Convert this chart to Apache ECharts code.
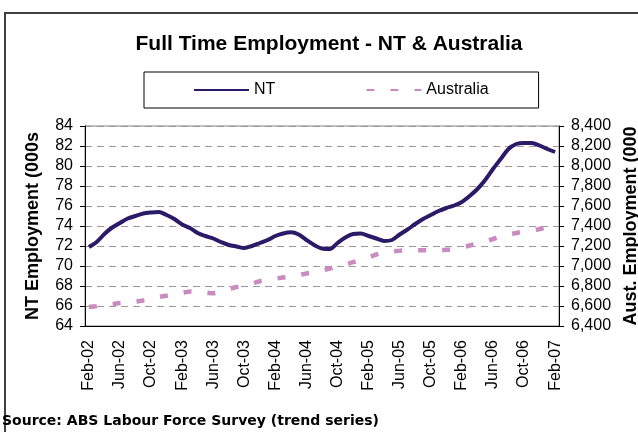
<!DOCTYPE html>
<html>
<head>
<meta charset="utf-8">
<script src="https://cdn.jsdelivr.net/npm/echarts@6/dist/echarts.min.js"></script>
<style>
html,body{margin:0;padding:0;background:#fff;}
#chart{width:638px;height:432px;}
</style>
</head>
<body>
<div id="chart"></div>
<script>
var months = [
 'Feb-02','Mar-02','Apr-02','May-02','Jun-02','Jul-02','Aug-02','Sep-02','Oct-02','Nov-02','Dec-02','Jan-03',
 'Feb-03','Mar-03','Apr-03','May-03','Jun-03','Jul-03','Aug-03','Sep-03','Oct-03','Nov-03','Dec-03','Jan-04',
 'Feb-04','Mar-04','Apr-04','May-04','Jun-04','Jul-04','Aug-04','Sep-04','Oct-04','Nov-04','Dec-04','Jan-05',
 'Feb-05','Mar-05','Apr-05','May-05','Jun-05','Jul-05','Aug-05','Sep-05','Oct-05','Nov-05','Dec-05','Jan-06',
 'Feb-06','Mar-06','Apr-06','May-06','Jun-06','Jul-06','Aug-06','Sep-06','Oct-06','Nov-06','Dec-06','Jan-07',
 'Feb-07'
];
var ntValues = [
 71.9, 72.4, 73.2, 73.85, 74.3, 74.75, 75.0, 75.25, 75.35, 75.4, 75.1, 74.7,
 74.15, 73.8, 73.3, 73.0, 72.75, 72.4, 72.1, 71.95, 71.8, 72.0, 72.3, 72.6,
 73.0, 73.25, 73.37, 73.15, 72.6, 72.1, 71.75, 71.7, 72.3, 72.85, 73.2, 73.25,
 73.0, 72.75, 72.5, 72.6, 73.15, 73.65, 74.2, 74.7, 75.1, 75.5, 75.8, 76.05,
 76.4, 77.0, 77.7, 78.6, 79.7, 80.7, 81.7, 82.2, 82.3, 82.3, 82.05, 81.7,
 81.4
];
var ausValues = [
 6590, 6598, 6610, 6620, 6630, 6638, 6645, 6655, 6668, 6690, 6703, 6715,
 6732, 6745, 6748, 6735, 6727, 6745, 6770, 6790, 6805, 6825, 6848, 6862,
 6875, 6885, 6895, 6910, 6925, 6938, 6955, 6975, 6995, 7015, 7038, 7060,
 7085, 7115, 7135, 7145, 7152, 7157, 7157, 7157, 7157, 7158, 7162, 7170,
 7185, 7205, 7225, 7245, 7270, 7295, 7315, 7330, 7345, 7355, 7370, 7390,
 7405
];
var titleText = 'Full Time Employment - NT & Australia';
var leftAxisName = 'NT Employment (000s';
var rightAxisName = 'Aust. Employment (000';
var sourceText = 'Source: ABS Labour Force Survey (trend series)';

var ntColor = '#2A1A68';
var ausColor = '#C98BC0';
var FONT = 'Liberation Sans, Arial, sans-serif';

var chart = echarts.init(document.getElementById('chart'), null, {renderer: 'canvas'});
chart.setOption({
  animation: false,
  backgroundColor: '#fff',
  textStyle: {fontFamily: FONT},
  title: {
    text: titleText,
    left: 324, top: 29, textAlign: 'center',
    textStyle: {fontFamily: FONT, fontSize: 21, fontWeight: 'bold', color: '#000'}
  },
  legend: {
    left: 144, top: 72,
    padding: [10, 50, 10, 49],
    itemGap: 90,
    itemWidth: 55, itemHeight: 14,
    borderColor: '#000', borderWidth: 1,
    backgroundColor: '#fff',
    itemStyle: {opacity: 0},
    textStyle: {fontFamily: FONT, fontSize: 16, color: '#000'},
    data: ['NT', 'Australia']
  },
  grid: {
    left: 85, right: 79, top: 126, bottom: 106,
    containLabel: false, outerBoundsMode: 'none',
    show: true, borderColor: '#808080', borderWidth: 1, backgroundColor: 'transparent'
  },
  xAxis: {
    type: 'category',
    data: months,
    boundaryGap: true,
    axisLine: {lineStyle: {color: '#000', width: 1}},
    axisTick: {interval: 3, length: 5, lineStyle: {color: '#000'}},
    axisLabel: {interval: 3, rotate: 90, margin: 14, fontSize: 16, color: '#000', fontFamily: FONT},
    splitLine: {show: false}
  },
  yAxis: [
    {
      type: 'value', position: 'left',
      min: 64, max: 84, interval: 2,
      name: leftAxisName, nameLocation: 'middle', nameGap: 43, nameRotate: 90,
      nameTextStyle: {fontFamily: FONT, fontSize: 18, fontWeight: 'bold', color: '#000'},
      axisLine: {show: true, lineStyle: {color: '#000', width: 1}},
      axisTick: {show: true, length: 5, lineStyle: {color: '#000'}},
      axisLabel: {margin: 12, fontSize: 16, color: '#000', fontFamily: FONT},
      splitLine: {show: true, lineStyle: {color: '#9a9a9a', type: [7, 5], width: 1}}
    },
    {
      type: 'value', position: 'right',
      min: 6400, max: 8400, interval: 200,
      name: rightAxisName, nameLocation: 'middle', nameGap: 58, nameRotate: 90,
      nameTextStyle: {fontFamily: FONT, fontSize: 18, fontWeight: 'bold', color: '#000'},
      axisLine: {show: true, lineStyle: {color: '#000', width: 1}},
      axisTick: {show: true, length: 5, lineStyle: {color: '#000'}},
      axisLabel: {margin: 12, fontSize: 16, color: '#000', fontFamily: FONT,
        formatter: function (v) { return v.toLocaleString('en-US'); }},
      splitLine: {show: false}
    }
  ],
  series: [
    {
      name: 'NT', type: 'line', yAxisIndex: 0,
      data: ntValues, symbol: 'none', smooth: 0.3,
      lineStyle: {color: ntColor, width: 4},
      itemStyle: {color: ntColor}
    },
    {
      name: 'Australia', type: 'line', yAxisIndex: 1,
      data: ausValues, symbol: 'none', smooth: 0.3,
      lineStyle: {color: ausColor, width: 4.5, type: [8, 16], cap: 'butt'},
      itemStyle: {color: ausColor}
    }
  ],
  graphic: [
    {
      type: 'rect', silent: true, z: -10,
      shape: {x: 5, y: 13, width: 700, height: 500},
      style: {fill: 'none', stroke: '#404040', lineWidth: 2}
    },
    {
      type: 'text', left: 2, top: 414,
      style: {text: sourceText, font: 'bold 14px DejaVu Sans', fill: '#000'}
    }
  ]
});
</script>
</body>
</html>
